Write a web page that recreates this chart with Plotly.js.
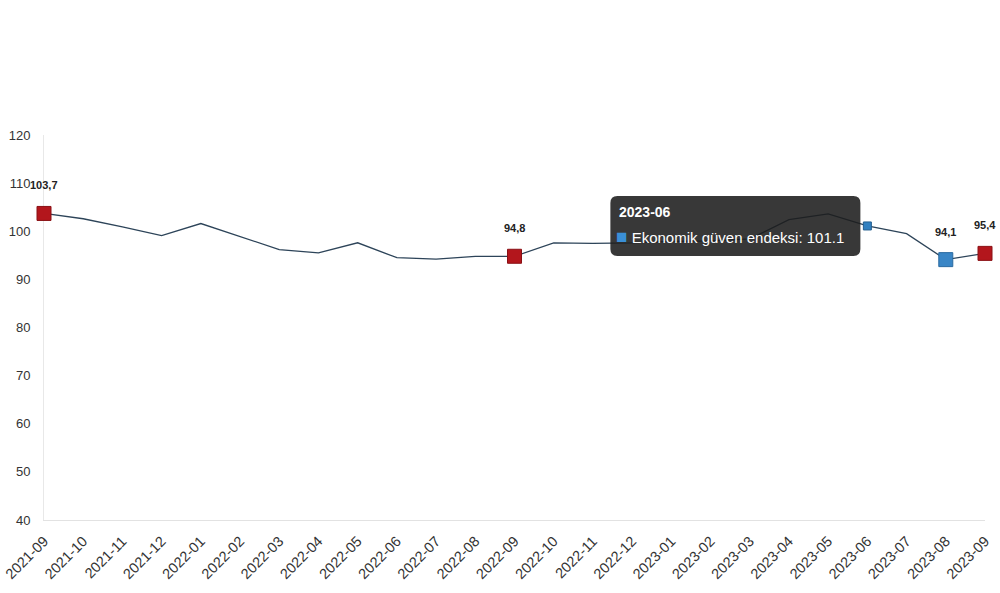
<!DOCTYPE html>
<html>
<head>
<meta charset="utf-8">
<script src="https://cdn.plot.ly/plotly-3.0.1.min.js"></script>
<style>
  html, body { margin: 0; padding: 0; background: #fff; }
  #chart { width: 1000px; height: 593px; }
</style>
</head>
<body>
<div id="chart"></div>
<script>
var months = ['2021-09', '2021-10', '2021-11', '2021-12', '2022-01', '2022-02', '2022-03',
  '2022-04', '2022-05', '2022-06', '2022-07', '2022-08', '2022-09', '2022-10', '2022-11',
  '2022-12', '2023-01', '2023-02', '2023-03', '2023-04', '2023-05', '2023-06', '2023-07',
  '2023-08', '2023-09'];
var indexValues = [103.7, 102.6, 100.9, 99.1, 101.6, 98.9, 96.2, 95.5, 97.6, 94.5, 94.2,
  94.8, 94.8, 97.6, 97.5, 97.6, 97.9, 98.0, 98.4, 102.4, 103.6, 101.1, 99.5, 94.1, 95.4];
var redMonths = ['2021-09', '2022-09', '2023-09'];
var blueMonths = ['2023-08'];
var labelMonths = ['2021-09', '2022-09', '2023-08', '2023-09'];
var hoverMonth = '2023-06';
var seriesName = 'Ekonomik güven endeksi';

var valueOf = function(m) { return indexValues[months.indexOf(m)]; };
var fmt = function(v) { return v.toFixed(1).replace('.', ','); };

var lineTrace = {
  x: months, y: indexValues, type: 'scatter', mode: 'lines',
  line: { color: '#2d4459', width: 1.3 },
  hoverinfo: 'skip', cliponaxis: false
};

var redTrace = {
  x: redMonths, y: redMonths.map(valueOf), type: 'scatter', mode: 'markers',
  marker: { symbol: 'square', size: 14, color: '#b3161c', line: { color: '#8a1015', width: 1 } },
  cliponaxis: false
};

var blueTrace = {
  x: blueMonths, y: blueMonths.map(valueOf), type: 'scatter', mode: 'markers',
  marker: { symbol: 'square', size: 14, color: '#3a86c6', line: { color: '#2a6aa0', width: 1 } },
  cliponaxis: false
};

var hoverTrace = {
  x: [hoverMonth], y: [valueOf(hoverMonth)], type: 'scatter', mode: 'markers',
  marker: { symbol: 'square', size: 8, color: '#3180c0', line: { color: '#245f90', width: 1 } },
  cliponaxis: false
};

var annotations = labelMonths.map(function(m) {
  return {
    x: m, y: valueOf(m), text: '<b>' + fmt(valueOf(m)) + '</b>',
    showarrow: false, yshift: 28,
    font: { family: 'Liberation Sans, Arial, sans-serif', size: 11, color: '#222' }
  };
});

// tooltip texts
annotations.push({
  x: hoverMonth, y: valueOf(hoverMonth), xanchor: 'left', yanchor: 'middle',
  xshift: -250, yshift: 14, showarrow: false,
  text: '<b>' + hoverMonth + '</b>',
  font: { family: 'Liberation Sans, Arial, sans-serif', size: 14, color: '#fff' }
});
annotations.push({
  x: hoverMonth, y: valueOf(hoverMonth), xanchor: 'left', yanchor: 'middle',
  xshift: -253, yshift: -11, showarrow: false,
  text: '<span style="color:#3a8fd6;font-size:19px">■</span> ' + seriesName + ': ' + valueOf(hoverMonth),
  font: { family: 'Liberation Sans, Arial, sans-serif', size: 15, color: '#fff' }
});

// rounded tooltip box, in pixels around the hovered point
var r = 7, x0 = -257, x1 = -7, y0 = -30, y1 = 30;
var boxPath = 'M' + (x0 + r) + ',' + y0 + ' L' + (x1 - r) + ',' + y0 +
  ' Q' + x1 + ',' + y0 + ' ' + x1 + ',' + (y0 + r) + ' L' + x1 + ',' + (y1 - r) +
  ' Q' + x1 + ',' + y1 + ' ' + (x1 - r) + ',' + y1 + ' L' + (x0 + r) + ',' + y1 +
  ' Q' + x0 + ',' + y1 + ' ' + x0 + ',' + (y1 - r) + ' L' + x0 + ',' + (y0 + r) +
  ' Q' + x0 + ',' + y0 + ' ' + (x0 + r) + ',' + y0 + ' Z';

var layout = {
  width: 1000, height: 593,
  margin: { l: 44, r: 15, t: 135, b: 73 },
  paper_bgcolor: '#fff', plot_bgcolor: '#fff',
  showlegend: false,
  font: { family: 'Liberation Sans, Arial, sans-serif', color: '#333' },
  xaxis: {
    type: 'category', range: [0, months.length - 1],
    showgrid: false, zeroline: false, layer: 'below traces',
    showline: true, linecolor: '#e2e2e2', linewidth: 1,
    tickangle: -45, tickfont: { size: 14.5, color: '#333' },
    ticks: '', ticklabelstandoff: 6, fixedrange: true
  },
  yaxis: {
    range: [40, 120], dtick: 10, tick0: 40,
    showgrid: false, zeroline: false, layer: 'below traces',
    showline: true, linecolor: '#e8e8e8', linewidth: 1,
    tickfont: { size: 13, color: '#333' },
    ticks: '', ticklabelstandoff: 10, fixedrange: true
  },
  shapes: [{
    type: 'path', xref: 'x', yref: 'y',
    xsizemode: 'pixel', ysizemode: 'pixel',
    xanchor: months.indexOf(hoverMonth), yanchor: valueOf(hoverMonth),
    path: boxPath, fillcolor: 'rgba(28,28,28,0.88)',
    line: { width: 0 }, layer: 'above'
  }],
  annotations: annotations
};

Plotly.newPlot('chart', [lineTrace, redTrace, blueTrace, hoverTrace], layout, { displayModeBar: false, staticPlot: true });
</script>
</body>
</html>
